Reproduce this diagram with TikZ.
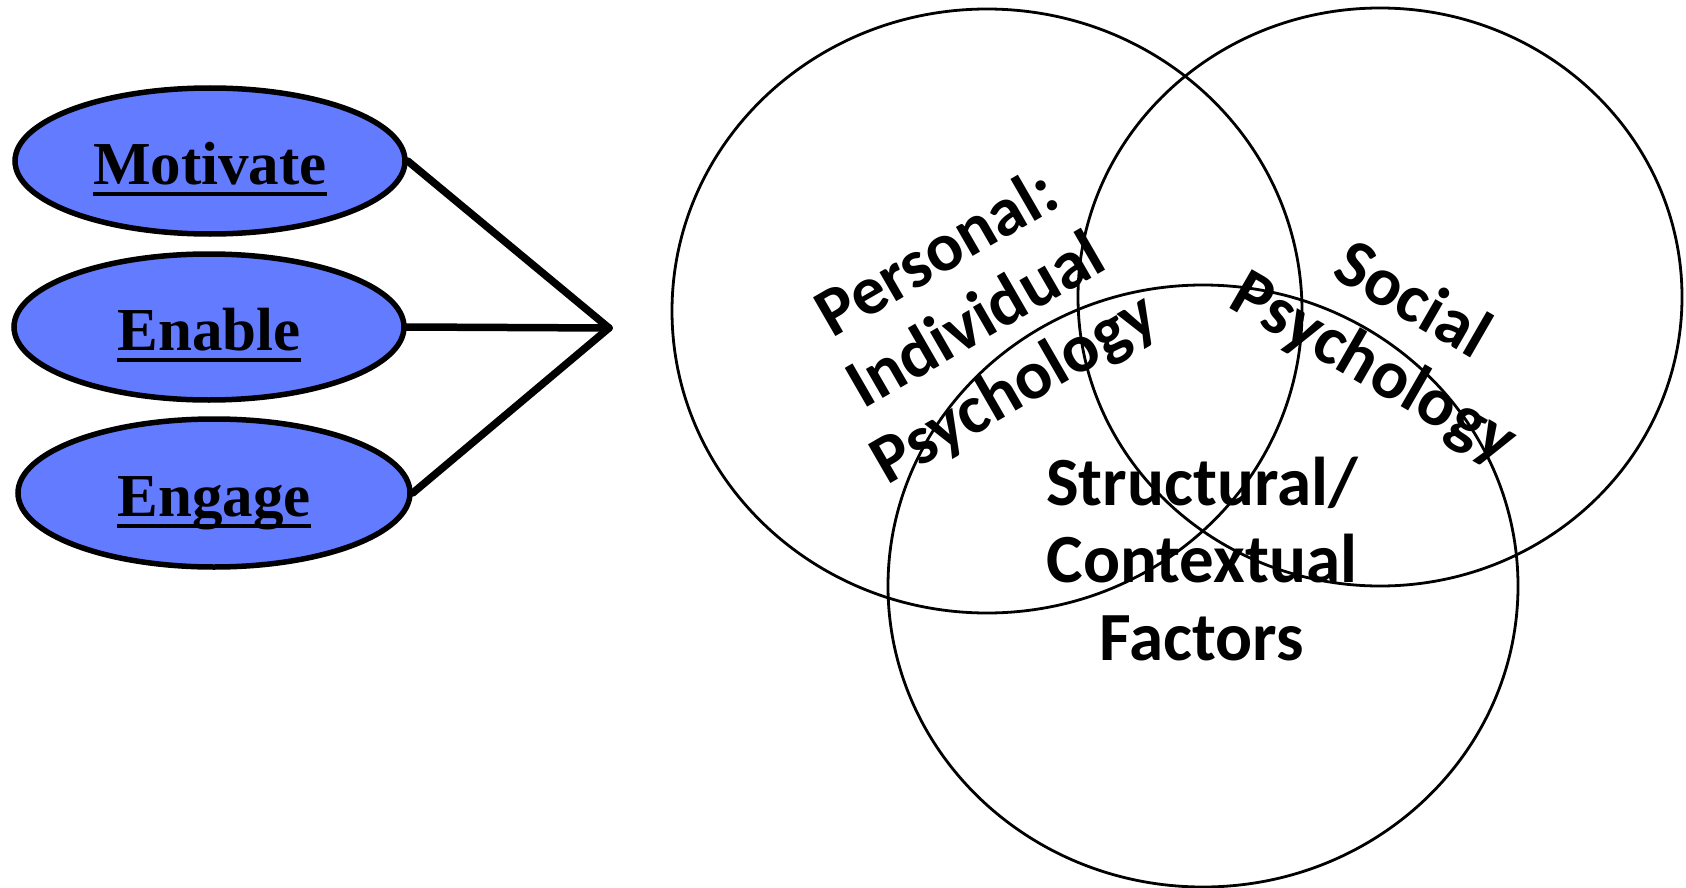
\documentclass[tikz,border=0pt]{standalone}
\usepackage{fontspec}
\setmainfont{Liberation Serif}
\newfontfamily\calfont{Carlito}
\usetikzlibrary{shapes.geometric}
\definecolor{ovalblue}{RGB}{99,123,255}
\newcommand\myul[1]{\raisebox{-23pt}[0pt][0pt]{\makebox[0pt]{\setbox0\hbox{#1}\rlap{\rule[-12pt]{\wd0}{4.5pt}}\box0}}}
\tikzset{
  oval/.style={ellipse, draw=black, line width=5.5pt, fill=ovalblue,
    minimum width=390pt, minimum height=146pt, inner sep=0pt,
    font=\fontsize{61}{70}\selectfont\bfseries},
  link/.style={line width=7.5pt, line cap=round},
  venn/.style={line width=2.8pt},
  vlabel/.style={align=center, inner sep=0pt,
    font=\calfont\fontsize{69}{77.5}\selectfont\bfseries}
}
\begin{document}
\begin{tikzpicture}[x=1pt,y=-1pt]
\useasboundingbox (0,0) rectangle (1686,888);
% ovals
\node[oval] (mot) at (210,161) {\myul{Motivate}};
\node[oval] (ena) at (209,327) {\myul{Enable}};
\node[oval, minimum width=392pt, minimum height=148pt] (eng) at (214,493) {\myul{Engage}};
\coordinate (hub) at (609,328);
\draw[link] (mot.east) -- (hub);
\draw[link] (ena.east) -- (hub);
\draw[link] (eng.east) -- (hub);
% venn circles
\draw[venn] (987,311) ellipse [x radius=315, y radius=302];
\draw[venn] (1380,297) ellipse [x radius=302, y radius=289];
\draw[venn] (1203,586) ellipse [x radius=315, y radius=301];
% labels
\node[vlabel, rotate=30] (pers) at (977,323) {Personal:\\Individual\\Psychology};
\node[vlabel, rotate=-30] (soc) at (1392,336) {Social\\Psychology};
\node[vlabel] (struc) at (1202,559) {Structural/\\Contextual\\Factors};
\end{tikzpicture}
\end{document}
